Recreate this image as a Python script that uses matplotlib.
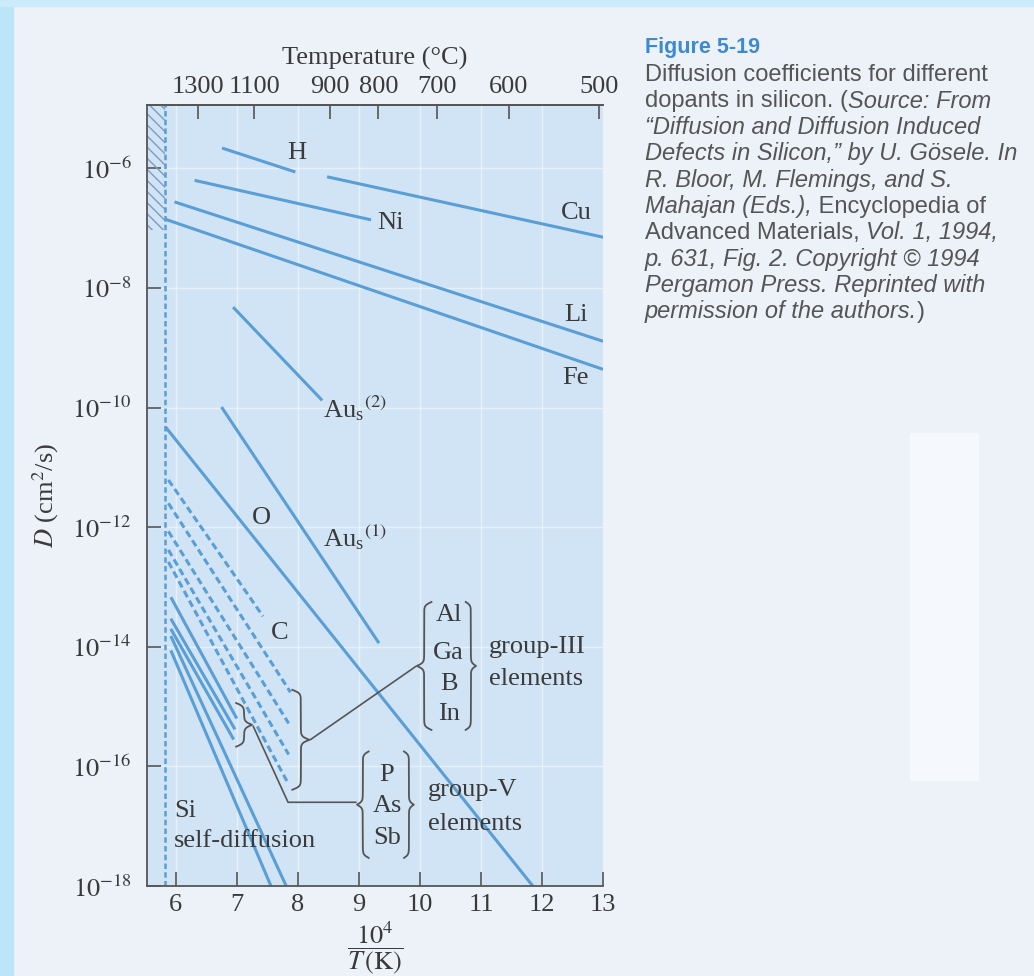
import numpy as np
import matplotlib
matplotlib.use('Agg')
import matplotlib.pyplot as plt
from matplotlib.patches import Rectangle
from matplotlib.ticker import NullLocator, FuncFormatter

plt.rcParams['font.family'] = ['Liberation Serif', 'DejaVu Serif']
plt.rcParams['mathtext.fontset'] = 'stix'
plt.rcParams['hatch.linewidth'] = 1.0

# straight Arrhenius lines, given as end points (x = 10^4/T, log10 D)
solid_names = ['H', 'Cu', 'Ni', 'Li', 'Fe', 'Au_s(2)', 'Au_s(1)', 'O']
solid_x0 = [6.76, 8.48, 6.31, 5.98, 5.83, 6.94, 6.75, 5.83]
solid_x1 = [7.96, 13.0, 9.20, 13.0, 13.0, 8.40, 9.33, 11.85]
solid_d0 = [-5.66, -6.14, -6.20, -6.56, -6.85, -8.32, -9.99, -10.32]
solid_d1 = [-6.06, -7.15, -6.86, -8.89, -9.36, -9.88, -13.94, -18.0]

# dashed: C and group-III (Al, Ga, B, In)
dashed_names = ['C', 'Al', 'Ga', 'B', 'In']
dashed_x0 = [5.88, 5.88, 5.88, 5.88, 5.88]
dashed_x1 = [7.43, 7.88, 7.85, 7.85, 7.85]
dashed_d0 = [-11.21, -11.60, -12.07, -12.38, -12.58]
dashed_d1 = [-13.49, -14.76, -15.28, -15.80, -16.30]

# group-V (P, As, Sb)
gv_x0 = [5.92, 5.92, 5.92]
gv_x1 = [7.00, 6.97, 6.95]
gv_d0 = [-13.17, -13.53, -13.70]
gv_d1 = [-15.20, -15.38, -15.55]

# Si self-diffusion
si_x0 = [5.92, 5.92]
si_x1 = [7.81, 7.56]
si_d0 = [-13.82, -14.06]
si_d1 = [-18.0, -18.0]

melt_x = 5.82
temps_c = [1300, 1100, 900, 800, 700, 600, 500]

blue = '#5a9ed6'
ink = '#3a3a3a'
gray = '#555555'
fs = 19

fig = plt.figure(figsize=(10.34, 9.76), dpi=100, facecolor='#edf2f8')
# scan edge strips
fig.patches.append(Rectangle((0, 0), 13/1034, 1, transform=fig.transFigure,
                             color='#bde5f8', zorder=0))
fig.patches.append(Rectangle((0, 1 - 6/976), 1, 6/976, transform=fig.transFigure,
                             color='#cbeafa', zorder=0))
fig.patches.append(Rectangle((910/1034, 1 - 780/976), 68/1034, 347/976,
                             transform=fig.transFigure, color='#f5f8fc', zorder=0))

ax = fig.add_axes([0.1422, 0.0922, 0.441, 0.8002])
ax.set_facecolor('#d1e4f5')
ax.set_yscale('log')
ax.set_xlim(5.53, 13)
ax.set_ylim(1e-18, 10**-4.94)
ax.set_yticks([10.0**e for e in range(-18, -5, 2)])
ax.yaxis.set_minor_locator(NullLocator())
ax.yaxis.set_major_formatter(FuncFormatter(lambda v, p: r'$10^{%d}$' % round(np.log10(v))))
ax.set_xticks(range(6, 14))
ax.set_axisbelow(True)
ax.grid(True, color='white', lw=1.0, alpha=0.45)

for s in ['left', 'bottom', 'top']:
    ax.spines[s].set_color(gray)
    ax.spines[s].set_linewidth(1.3)
ax.spines['right'].set_visible(False)
ax.tick_params(axis='both', direction='in', length=10, width=1.2, color=gray,
               labelsize=fs, labelcolor=ink)
ax.tick_params(axis='y', pad=11)
ax.tick_params(axis='x', pad=6)


def fwd(x):
    x = np.asarray(x, dtype=float)
    with np.errstate(divide='ignore', invalid='ignore'):
        return 1e4 / x - 273


def inv(t):
    t = np.asarray(t, dtype=float)
    with np.errstate(divide='ignore', invalid='ignore'):
        return 1e4 / (t + 273)


secax = ax.secondary_xaxis('top', functions=(fwd, inv))
secax.set_xticks(temps_c)
secax.tick_params(direction='in', length=10, width=1.2, color=gray,
                  labelsize=fs, labelcolor=ink, pad=5)
secax.spines['top'].set_color(gray)
secax.spines['top'].set_linewidth(1.3)
secax.set_xlabel('Temperature (°C)', fontsize=fs, color=ink, labelpad=8)

# hatched region above the melting point
ax.add_patch(Rectangle((5.53, 10**-7.03), melt_x - 5.53, 10**-4.94 - 10**-7.03,
                       hatch='\\\\\\', fill=False, edgecolor='#7c9cc0', lw=0))
ax.axvline(melt_x, color=blue, lw=1.8, dashes=(2.2, 1.3))

for x0, x1, d0, d1 in zip(solid_x0, solid_x1, solid_d0, solid_d1):
    ax.plot([x0, x1], [10**d0, 10**d1], color=blue, lw=2.2, solid_capstyle='butt')
for x0, x1, d0, d1 in zip(dashed_x0, dashed_x1, dashed_d0, dashed_d1):
    ax.plot([x0, x1], [10**d0, 10**d1], color=blue, lw=2.2, dashes=(2.3, 1.3))
for x0, x1, d0, d1 in zip(gv_x0, gv_x1, gv_d0, gv_d1):
    ax.plot([x0, x1], [10**d0, 10**d1], color=blue, lw=2.2, solid_capstyle='butt')
for x0, x1, d0, d1 in zip(si_x0, si_x1, si_d0, si_d1):
    ax.plot([x0, x1], [10**d0, 10**d1], color=blue, lw=2.2, solid_capstyle='butt')


def brace(x_end, x_tip, lo, hi, beta=36):
    # curly brace along log10 D from lo to hi, pointing towards x_tip
    half = (hi - lo) / 2
    s = np.linspace(0, half, 120)
    h = 1 / (1 + np.exp(-beta * s)) + 1 / (1 + np.exp(-beta * (s - half)))
    xs = x_end + (x_tip - x_end) * (h - 0.5)
    ys = lo + s
    xs = np.concatenate([xs, xs[-2::-1]])
    ys = np.concatenate([ys, (hi - s)[-2::-1]])
    ax.plot(xs, 10**ys, color=gray, lw=1.3)


brace(7.91, 8.19, -16.39, -14.72)
brace(6.99, 7.25, -15.67, -14.94)
brace(10.19, 9.95, -15.39, -13.25)
brace(10.75, 10.92, -15.39, -13.25)
brace(9.16, 8.97, -17.53, -15.75)
brace(9.74, 9.90, -17.53, -15.75)

ax.plot([8.21, 9.93], [10**-15.55, 10**-14.33], color=gray, lw=1.2)
ax.plot([7.27, 7.84, 8.95], [10**-15.33, 10**-16.60, 10**-16.60], color=gray, lw=1.2)

lab = dict(fontsize=fs, color=ink, ha='center', va='center')
left = dict(fontsize=fs, color=ink, ha='left', va='center')
ax.text(7.98, 10**-5.74, 'H', **lab)
ax.text(9.51, 10**-6.91, 'Ni', **lab)
ax.text(12.56, 10**-6.75, 'Cu', **lab)
ax.text(12.56, 10**-8.45, 'Li', **lab)
ax.text(12.55, 10**-9.50, 'Fe', **lab)
ax.text(8.42, 10**-10.0, r'Au$_\mathregular{s}$$^{(2)}$', **left)
ax.text(7.41, 10**-11.84, 'O', **lab)
ax.text(8.42, 10**-12.16, r'Au$_\mathregular{s}$$^{(1)}$', **left)
ax.text(7.70, 10**-13.77, 'C', **lab)
for name, d in zip(['Al', 'Ga', 'B', 'In'], [-13.46, -14.10, -14.63, -15.13]):
    ax.text(10.47, 10**d, name, **lab)
ax.text(11.13, 10**-14.0, 'group-III', **left)
ax.text(11.13, 10**-14.53, 'elements', **left)
for name, d in zip(['P', 'As', 'Sb'], [-16.14, -16.66, -17.19]):
    ax.text(9.46, 10**d, name, **lab)
ax.text(10.13, 10**-16.40, 'group-V', **left)
ax.text(10.13, 10**-16.96, 'elements', **left)
ax.text(5.97, 10**-16.74, 'Si', **left)
ax.text(5.97, 10**-17.24, 'self-diffusion', **left)

ax.set_ylabel(r'$D$ (cm$^2$/s)', fontsize=fs, color=ink, labelpad=8)
ax.set_xlabel(r'$\dfrac{10^4}{T\,(\mathrm{K})}$', fontsize=fs, color=ink, labelpad=2)

# caption
cap_font = ['Liberation Sans', 'DejaVu Sans']
cap_fs = 17
fig.text(645/1034, 1 - 47/976, 'Figure 5-19', family=cap_font, fontsize=15.5,
         fontweight='bold', color='#3b8bd3', ha='left', va='center')
caption = [
    [('Diffusion coefficients for different', 'normal')],
    [('dopants in silicon. (', 'normal'), ('Source: From', 'italic')],
    [('\u201cDiffusion and Diffusion Induced', 'italic')],
    [('Defects in Silicon,\u201d by U. G\u00f6sele. In', 'italic')],
    [('R. Bloor, M. Flemings, and S.', 'italic')],
    [('Mahajan (Eds.),', 'italic'), ('\u00a0Encyclopedia of', 'normal')],
    [('Advanced Materials,\u00a0', 'normal'), ('Vol. 1, 1994,', 'italic')],
    [('p. 631, Fig. 2. Copyright \u00a9 1994', 'italic')],
    [('Pergamon Press. Reprinted with', 'italic')],
    [('permission of the authors.', 'italic'), (')', 'normal')],
]
for i, segs in enumerate(caption):
    y = 1 - (75 + 26.3 * i) / 976
    prev = None
    for txt, st in segs:
        if prev is None:
            prev = fig.text(645/1034, y, txt, family=cap_font, fontsize=cap_fs, style=st,
                            color='#555555', ha='left', va='center')
        else:
            prev = ax.annotate(txt, xy=(1, 0.5), xycoords=prev, family=cap_font,
                               fontsize=cap_fs, style=st, color='#555555',
                               ha='left', va='center', annotation_clip=False)

fig.savefig('out.png', dpi=100, facecolor=fig.get_facecolor())
